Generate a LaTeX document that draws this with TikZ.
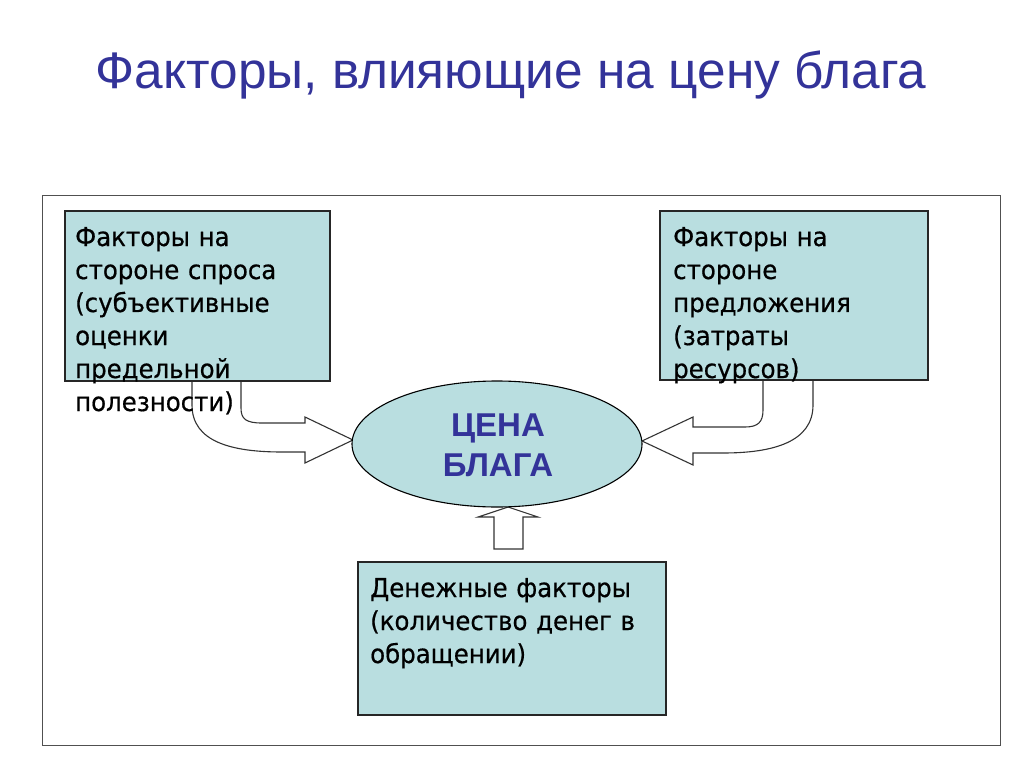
\documentclass[tikz,border=0pt]{standalone}
\usepackage{fontspec}
\setmainfont{Liberation Sans}
\newfontfamily\boxfont[FakeStretch=0.94,FakeBold=0.6]{DejaVu Sans}
\usetikzlibrary{shapes.geometric}
\definecolor{teal1}{RGB}{185,222,224}
\definecolor{titleblue}{RGB}{51,51,153}
\definecolor{frame}{RGB}{80,80,80}
\tikzset{
  box/.style={draw=black!85, line width=1.1pt, fill=teal1},
  boxtext/.style={anchor=base west, inner sep=0pt, align=left, text width=300pt,
     font=\boxfont\fontsize{26}{33}\selectfont},
  blockarrow/.style={draw=black!80, line width=1.1pt, fill=white, line join=miter},
}
\begin{document}
\begin{tikzpicture}[x=1pt,y=-1pt]
\useasboundingbox (0,0) rectangle (1024,767);
% title
\node[text=titleblue, font=\fontsize{51.4}{60}\selectfont, anchor=base] (title) at (511,89) {Факторы, влияющие на цену блага};
% outer frame
\draw[frame, line width=1pt] (42,196) rectangle (1000,745);
% block arrows
\draw[blockarrow] (192,381) -- (192,405) .. controls (192,442) and (232,452) .. (282,452)
  -- (305,452) -- (305,463) -- (353,440) coordinate (ltip) -- (305,417) -- (305,423) -- (262,423)
  .. controls (246,423) and (241,419) .. (241,408) -- (241,381);
\draw[blockarrow] (813,380) -- (813,405) .. controls (813,442) and (773,453) .. (723,453)
  -- (693,453) -- (693,465) -- (642,441) coordinate (rtip) -- (693,417) -- (693,427) -- (745,427)
  .. controls (758,427) and (763,422) .. (763,410) -- (763,380);
\draw[blockarrow] (494,549) -- (494,517) -- (478,517) -- (508,507) coordinate (utip) -- (538,517) -- (523,517) -- (523,549) -- cycle;
% boxes
\path[box] (65,211) rectangle (330,381);
\path[box] (660,211) rectangle (928,380);
\path[box] (358,562) rectangle (666,715);
% ellipse
\node[ellipse, draw=black, line width=1.1pt, fill=teal1, minimum width=290pt, minimum height=126pt, inner sep=0pt] (price) at (497,444) {};
\node[text=titleblue, font=\bfseries\fontsize{33}{40}\selectfont, align=center] (pricetext) at (498,445) {ЦЕНА\\БЛАГА};
% texts
\node[boxtext] (demand) at (75,246) {Факторы на\\стороне спроса\\(субъективные\\оценки\\предельной\\полезности)};
\node[boxtext] (supply) at (673,246) {Факторы на\\стороне\\предложения\\(затраты\\ресурсов)};
\node[boxtext] (money) at (370,597) {Денежные факторы\\(количество денег в\\обращении)};
\end{tikzpicture}
\end{document}
